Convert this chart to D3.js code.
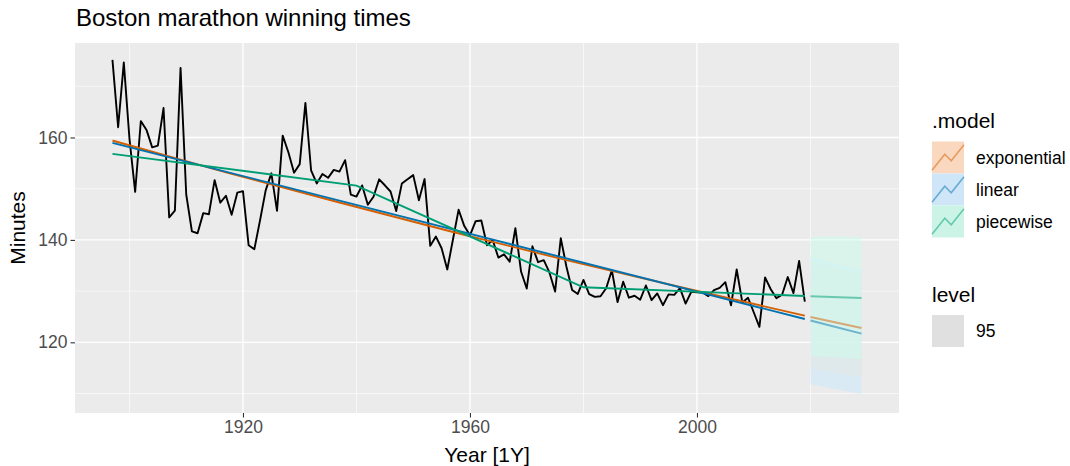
<!DOCTYPE html>
<html>
<head>
<meta charset="utf-8">
<script src="https://cdn.jsdelivr.net/npm/d3@7"></script>
<style>
  html, body { margin: 0; padding: 0; background: #ffffff; }
  svg { display: block; font-family: "Liberation Sans", Arial, Helvetica, sans-serif; }
</style>
</head>
<body>
<svg id="chart" width="1070" height="466"></svg>
<script>
// Boston marathon, men's open division: winning time in minutes, 1897-2019
const firstYear = 1897;
const minutes = [
  175.17, 162.00, 174.63, 159.73, 149.38, 163.20, 161.48, 158.07, 158.42, 165.75,
  144.40, 145.72, 173.60, 148.87, 141.65, 141.30, 145.23, 145.02, 151.68, 147.27,
  148.62, 144.90, 149.22, 149.52, 138.95, 138.17, 143.78, 149.67, 153.00, 145.67,
  160.37, 157.12, 153.13, 154.80, 166.75, 153.60, 151.02, 152.88, 152.12, 153.67,
  153.33, 155.57, 148.85, 148.47, 150.63, 146.85, 148.42, 151.83, 150.67, 149.45,
  145.65, 151.03, 151.83, 152.65, 147.75, 151.88, 138.85, 140.65, 138.37, 134.23,
  140.08, 145.90, 142.70, 140.90, 143.65, 143.80, 138.97, 139.98, 136.55, 137.18,
  135.75, 142.28, 133.82, 130.50, 138.75, 135.65, 136.05, 133.65, 129.92, 140.32,
  134.77, 130.22, 129.45, 132.18, 129.43, 128.87, 129.00, 130.57, 134.08, 127.85,
  131.83, 128.72, 129.10, 128.32, 131.10, 128.23, 129.55, 127.25, 129.37, 129.27,
  130.57, 127.57, 129.87, 129.78, 129.72, 129.03, 130.18, 130.62, 131.75, 127.23,
  134.22, 127.77, 128.70, 125.87, 123.03, 132.67, 130.37, 128.62, 129.28, 132.75,
  129.62, 135.90, 127.95
];

// Fitted trends (.fitted) at the years given
const models = ["exponential", "linear", "piecewise"];
const expFitYears = [1897, 1917, 1937, 1957, 1977, 1997, 2019];
const expFit = [159.4, 153.2, 147.3, 141.55, 136.05, 130.8, 125.2];
const linearFitYears = [1897, 2019];
const linearFit = [158.95, 124.55];
const piecewiseFitYears = [1897, 1940, 1980, 2019];
const piecewiseFit = [156.8, 150.6, 130.75, 129.05];

// Ten-year forecasts: point forecast and 95% interval at the first and last horizon
const fcYears = [2020, 2029];
const expFc = [124.95, 122.8];
const expLo = [114.9, 113.3];
const expHi = [135.9, 133.3];
const linearFc = [124.27, 121.7];
const linearLo = [111.8, 109.9];
const linearHi = [136.7, 134.0];
const piecewiseFc = [129.0, 128.65];
const piecewiseLo = [117.4, 116.7];
const piecewiseHi = [140.6, 140.6];

const xTicks = [1920, 1960, 2000];
const xMinor = [1900, 1940, 1980, 2020];
const yTicks = [120, 140, 160];
const yMinor = [110, 130, 150, 170];
const levels = ["95"];

// Styling
const modelColour = { exponential: "#D55E00", linear: "#0072B2", piecewise: "#009E73" };
const ribbonFill = {
  exponential: "rgba(255,227,195,0.5)",
  linear: "rgba(201,233,253,0.5)",
  piecewise: "rgba(203,254,236,0.5)"
};
const keyFill = { exponential: "#FAD8C0", linear: "#CFE5F8", piecewise: "#CBF4E6" };

const panel = { left: 75, right: 899, top: 43, bottom: 413 };

const svg = d3.select("#chart");

const x = d3.scaleLinear().domain([1890.4, 2035.6]).range([panel.left, panel.right]);
const y = d3.scaleLinear().domain([106.2, 178.45]).range([panel.bottom, panel.top]);

// Panel background and grid
svg.append("rect")
  .attr("x", panel.left).attr("y", panel.top)
  .attr("width", panel.right - panel.left).attr("height", panel.bottom - panel.top)
  .attr("fill", "#EBEBEB");

const grid = svg.append("g");
grid.selectAll(".xminor").data(xMinor).join("line")
  .attr("x1", d => x(d)).attr("x2", d => x(d))
  .attr("y1", panel.top).attr("y2", panel.bottom)
  .attr("stroke", "#FFFFFF").attr("stroke-width", 0.6);
grid.selectAll(".yminor").data(yMinor).join("line")
  .attr("y1", d => y(d)).attr("y2", d => y(d))
  .attr("x1", panel.left).attr("x2", panel.right)
  .attr("stroke", "#FFFFFF").attr("stroke-width", 0.6);
grid.selectAll(".xmajor").data(xTicks).join("line")
  .attr("x1", d => x(d)).attr("x2", d => x(d))
  .attr("y1", panel.top).attr("y2", panel.bottom)
  .attr("stroke", "#FFFFFF").attr("stroke-width", 1.3);
grid.selectAll(".ymajor").data(yTicks).join("line")
  .attr("y1", d => y(d)).attr("y2", d => y(d))
  .attr("x1", panel.left).attr("x2", panel.right)
  .attr("stroke", "#FFFFFF").attr("stroke-width", 1.3);

svg.append("clipPath").attr("id", "panel-clip")
  .append("rect")
  .attr("x", panel.left).attr("y", panel.top)
  .attr("width", panel.right - panel.left).attr("height", panel.bottom - panel.top);

const plot = svg.append("g").attr("clip-path", "url(#panel-clip)");

// Forecast intervals
const intervals = [
  { model: "exponential", lo: expLo, hi: expHi, fc: expFc },
  { model: "linear", lo: linearLo, hi: linearHi, fc: linearFc },
  { model: "piecewise", lo: piecewiseLo, hi: piecewiseHi, fc: piecewiseFc }
];
const area = d3.area()
  .x(d => x(d.year)).y0(d => y(d.lo)).y1(d => y(d.hi));
intervals.forEach(s => {
  const pts = fcYears.map((yr, i) => ({ year: yr, lo: s.lo[i], hi: s.hi[i] }));
  plot.append("path").datum(pts)
    .attr("d", area)
    .attr("fill", ribbonFill[s.model]);
});

// Observed series
const line = d3.line().x(d => x(d.year)).y(d => y(d.value));
const observed = minutes.map((v, i) => ({ year: firstYear + i, value: v }));
plot.append("path").datum(observed)
  .attr("d", line)
  .attr("fill", "none")
  .attr("stroke", "#000000")
  .attr("stroke-width", 1.9)
  .attr("stroke-linejoin", "round");

// Fitted trends
const fitted = [
  { model: "exponential", years: expFitYears, values: expFit },
  { model: "linear", years: linearFitYears, values: linearFit },
  { model: "piecewise", years: piecewiseFitYears, values: piecewiseFit }
];
const curve = d3.line().x(d => x(d.year)).y(d => y(d.value)).curve(d3.curveMonotoneX);
fitted.forEach(s => {
  const pts = s.years.map((yr, i) => ({ year: yr, value: s.values[i] }));
  plot.append("path").datum(pts)
    .attr("d", s.model === "piecewise" ? line : curve)
    .attr("fill", "none")
    .attr("stroke", modelColour[s.model])
    .attr("stroke-width", 1.9);
});

// Point forecasts
intervals.forEach(s => {
  const pts = fcYears.map((yr, i) => ({ year: yr, value: s.fc[i] }));
  plot.append("path").datum(pts)
    .attr("d", line)
    .attr("fill", "none")
    .attr("stroke", modelColour[s.model])
    .attr("stroke-opacity", 0.5)
    .attr("stroke-width", 1.9);
});

// Axes
const xAxis = d3.axisBottom(x).tickValues(xTicks).tickFormat(d3.format("d"))
  .tickSizeInner(4.5).tickSizeOuter(0).tickPadding(3);
const gx = svg.append("g").attr("transform", `translate(0,${panel.bottom})`).call(xAxis);
gx.select(".domain").remove();
gx.selectAll("line").attr("stroke", "#333333").attr("stroke-width", 1.1);
gx.selectAll("text").attr("fill", "#4D4D4D").attr("font-size", 17.5)
  .attr("font-family", "Liberation Sans, Arial, sans-serif");

const yAxis = d3.axisLeft(y).tickValues(yTicks).tickFormat(d3.format("d"))
  .tickSizeInner(4.5).tickSizeOuter(0).tickPadding(3);
const gy = svg.append("g").attr("transform", `translate(${panel.left},0)`).call(yAxis);
gy.select(".domain").remove();
gy.selectAll("line").attr("stroke", "#333333").attr("stroke-width", 1.1);
gy.selectAll("text").attr("fill", "#4D4D4D").attr("font-size", 17.5)
  .attr("font-family", "Liberation Sans, Arial, sans-serif");

// Titles
svg.append("text")
  .attr("x", 76).attr("y", 26)
  .attr("font-size", 24).attr("fill", "#000000")
  .text("Boston marathon winning times");

svg.append("text")
  .attr("x", (panel.left + panel.right) / 2).attr("y", 462)
  .attr("text-anchor", "middle")
  .attr("font-size", 21).attr("fill", "#000000")
  .text("Year [1Y]");

svg.append("text")
  .attr("transform", `translate(25,${(panel.top + panel.bottom) / 2}) rotate(-90)`)
  .attr("text-anchor", "middle")
  .attr("font-size", 21).attr("fill", "#000000")
  .text("Minutes");

// Legend: .model
const legend = svg.append("g");
const keyX = 932, keySize = 32, labelX = 976;
legend.append("text")
  .attr("x", keyX).attr("y", 128)
  .attr("font-size", 21).attr("fill", "#000000")
  .text(".model");

const keyTop = 141.5;
models.forEach((m, i) => {
  const ky = keyTop + i * keySize;
  legend.append("rect")
    .attr("x", keyX).attr("y", ky)
    .attr("width", keySize).attr("height", keySize)
    .attr("fill", keyFill[m]);
  const kx = d3.scaleLinear().domain([0, 1]).range([keyX, keyX + keySize]);
  const kyS = d3.scaleLinear().domain([0, 1]).range([ky + keySize, ky]);
  const glyph = [[0, 0.1], [0.4, 0.6], [0.6, 0.4], [1, 0.9]];
  legend.append("path")
    .attr("d", d3.line().x(p => kx(p[0])).y(p => kyS(p[1]))(glyph))
    .attr("fill", "none")
    .attr("stroke", modelColour[m])
    .attr("stroke-opacity", 0.5)
    .attr("stroke-width", 1.6);
  legend.append("text")
    .attr("x", labelX).attr("y", ky + keySize / 2 + 6)
    .attr("font-size", 17.5).attr("fill", "#000000")
    .text(m);
});

// Legend: level
legend.append("text")
  .attr("x", keyX).attr("y", 302)
  .attr("font-size", 21).attr("fill", "#000000")
  .text("level");
levels.forEach((lv, i) => {
  const ky = 315 + i * keySize;
  legend.append("rect")
    .attr("x", keyX).attr("y", ky)
    .attr("width", keySize).attr("height", keySize)
    .attr("fill", "#E0E0E0");
  legend.append("text")
    .attr("x", labelX).attr("y", ky + keySize / 2 + 6)
    .attr("font-size", 17.5).attr("fill", "#000000")
    .text(lv);
});
</script>
</body>
</html>
